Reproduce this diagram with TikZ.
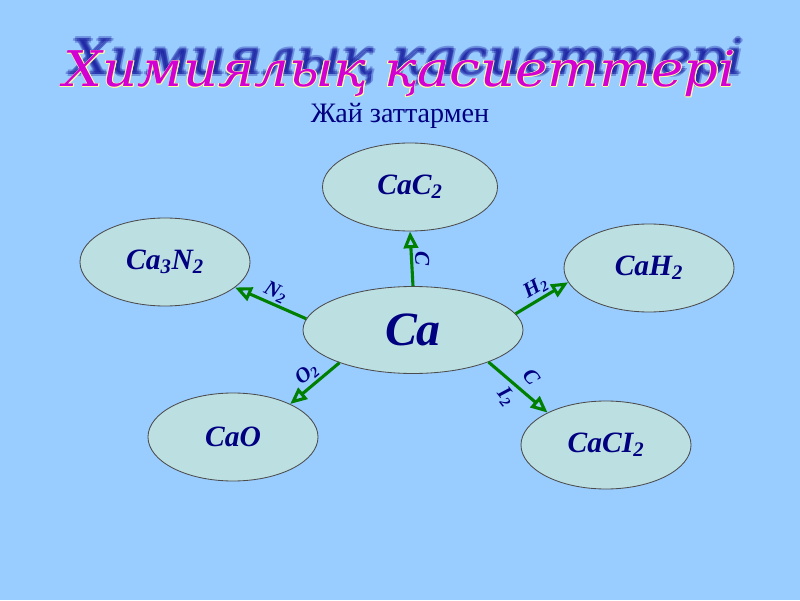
\documentclass[tikz,border=0pt]{standalone}
\usepackage{fontspec}
\setmainfont{Liberation Serif}
\newfontfamily\titlefont{DejaVu Serif}
\usepackage{tikz}
\usetikzlibrary{arrows.meta,shapes,positioning}
\definecolor{celeste}{RGB}{153,204,255}
\definecolor{aguamarina}{RGB}{188,224,226}
\definecolor{marino}{RGB}{0,0,128}
\definecolor{verde}{RGB}{0,128,0}
\definecolor{fucsia}{RGB}{210,0,210}
\definecolor{amarillo}{RGB}{255,255,160}
\definecolor{sombra}{RGB}{10,10,150}
\newcommand{\indice}[1]{\textsubscript{#1}}
\newcommand{\titulo}{\titlefont\itshape Химиялық қасиеттері}
\tikzstyle{vertex}=[ellipse, draw=black!70, fill=aguamarina,
                    line width=0.6pt, inner sep=0pt,
                    minimum width=4.25cm, minimum height=2.2cm,
                    text=marino, font=\bfseries\itshape\fontsize{21}{24}\selectfont]
\tikzstyle{edge}  =[-{Triangle[open,length=0.42cm,width=0.36cm]},
                    draw=verde, line width=2.2pt]
\tikzstyle{reagent}=[text=marino, inner sep=1.5pt, align=center,
                    font=\bfseries\itshape\fontsize{15}{22}\selectfont]
\tikzstyle{wordart}=[xscale=1.11, font=\fontsize{35}{40}\selectfont]

\begin{document}
\begin{tikzpicture}
    \useasboundingbox (0,0) rectangle (20,15);
    \fill[celeste] (0,0) rectangle (20,15);

    % title with blurred shadow and outline
    \foreach \dx/\dy in {0/0,0.05/0,-0.05/0,0/0.05,0/-0.05}
        \node[wordart, text=sombra, opacity=0.3] at (10.2+\dx,13.45+\dy) {\titulo};
    \foreach \a in {0,60,...,300}
        \node[wordart, text=amarillo] at ([shift={(\a:0.6pt)}]10,13.15) {\titulo};
    \node (titulo)[wordart, text=fucsia] at (10,13.15) {\titulo};
    \node (subtitulo)[text=marino, font=\fontsize{20}{24}\selectfont]
        at (10,12.1) {Жай заттармен};

    \draw (10.325,6.75) node(ca)[vertex, minimum width=5.5cm, minimum height=2.175cm,
            font=\bfseries\itshape\fontsize{34}{38}\selectfont]{Ca};
    \draw (10.25,10.325) node(cac2)[vertex, minimum width=4.375cm]{CaC\indice{2}};
    \draw (4.125,8.45) node(ca3n2)[vertex]{Ca\indice{3}N\indice{2}};
    \draw (16.225,8.3) node(cah2)[vertex]{CaH\indice{2}};
    \draw (5.825,4.075) node(cao)[vertex]{CaO};
    \draw (15.15,3.875) node(cacl2)[vertex]{CaCI\indice{2}};

    \foreach \a/\j/\b/\t/\r/\s in {174/ca3n2/-20/{N\indice{2}}/-25/above,
                                 90/cac2/270/{C}/-90/above,
                                 9/cah2/190/{H\indice{2}}/30/above,
                                 204/cao/30/{O\indice{2}}/40/above,
                                 337/cacl2/151/{C\\I\indice{2}}/-52/}
        \draw [edge] (ca.\a) to node[reagent, rotate=\r, \s]{\t} (\j.\b);

\end{tikzpicture}
\end{document}
